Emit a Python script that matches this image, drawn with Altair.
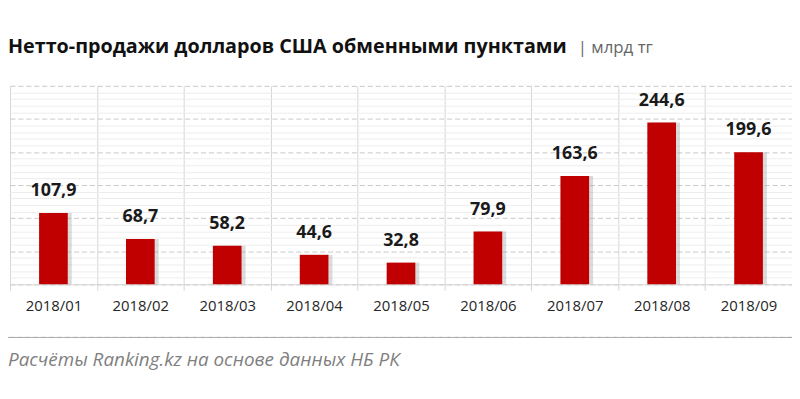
import altair as alt
import pandas as pd

months = ["2018/01", "2018/02", "2018/03", "2018/04", "2018/05",
          "2018/06", "2018/07", "2018/08", "2018/09"]
values = [107.9, 68.7, 58.2, 44.6, 32.8, 79.9, 163.6, 244.6, 199.6]
title_text = "Нетто-продажи долларов США обменными пунктами"
unit_text = "| млрд тг"
source_text = "Расчёты Ranking.kz на основе данных  НБ РК"
grid_values = list(range(0, 301, 10))

df = pd.DataFrame({
    "month": months,
    "value": values,
    "label": [f"{v:.1f}".replace(".", ",") for v in values],
})

FONT = "Open Sans"

x_enc = alt.X(
    "month:N", sort=months,
    scale=alt.Scale(paddingInner=0, paddingOuter=0),
    axis=alt.Axis(
        title=None, labelAngle=0, tickBand="extent", grid=True,
        gridColor="#d6d6d6", tickColor="#d6d6d6", tickSize=6,
        domainColor="#d6d6d6", labelFont=FONT, labelFontSize=15,
        labelColor="#262626", labelPadding=8,
    ),
)
y_axis = alt.Axis(
    title=None, labels=False, ticks=False, domain=False,
    values=grid_values, grid=True,
    gridColor={"condition": {"test": "datum.value % 50 === 0", "value": "#c8c8c8"}, "value": "#ededed"},
    gridDash={"condition": {"test": "datum.value % 50 === 0", "value": [5, 3]}, "value": []},
)
y_scale = alt.Scale(domain=[0, 300], nice=False)
y_enc = alt.Y("value:Q", scale=y_scale, axis=y_axis)

base = alt.Chart(df)

shadow = base.mark_bar(
    color="#9a9a9a", opacity=0.35, xOffset=4, width=alt.RelativeBandSize(0.33)
).encode(x=x_enc, y=y_enc)

bars = base.mark_bar(
    color="#c00000", width=alt.RelativeBandSize(0.33)
).encode(x=x_enc, y=y_enc)

labels = base.mark_text(
    dy=-17, baseline="alphabetic", font=FONT, fontWeight="bold",
    fontSize=18, color="#1a1a1a"
).encode(x=x_enc, y=y_enc, text="label:N")

one = pd.DataFrame({"a": [0]})

title = alt.Chart(one).mark_text(
    text=title_text, align="left", baseline="alphabetic", font=FONT,
    fontWeight="bold", fontSize=19.9, color="#111111"
).encode(x=alt.value(-2), y=alt.value(-33))

unit = alt.Chart(one).mark_text(
    text=unit_text, align="left", baseline="alphabetic", font=FONT,
    fontSize=17, color="#666666"
).encode(x=alt.value(572), y=alt.value(-33))

# separator line below the axis (stroke of a zero-height rect)
sep = alt.Chart(one).mark_rect(
    fill=None, fillOpacity=0, stroke="#a6a6a6", strokeDash=[5, 3], strokeWidth=1
).encode(x=alt.value(-2), x2=alt.value(790), y=alt.value(253.5), y2=alt.value(253.5))

source = alt.Chart(one).mark_text(
    text=source_text, align="left", baseline="alphabetic", font=FONT,
    fontStyle="italic", fontSize=19, color="#7f7f7f"
).encode(x=alt.value(-2), y=alt.value(282))

chart = alt.layer(shadow, bars, labels, title, unit, source, sep).properties(
    width=788, height=200,
    autosize=alt.AutoSizeParams(type="none"),
    padding={"top": 77, "left": 2, "right": 0, "bottom": 100},
).configure_view(stroke=None)

chart.save("out.html", embed_options={"renderer": "svg", "actions": False})
